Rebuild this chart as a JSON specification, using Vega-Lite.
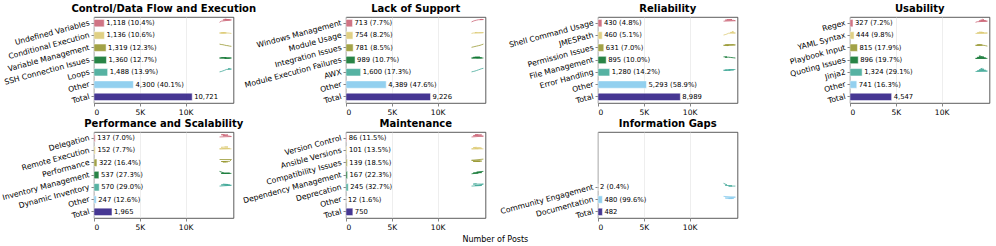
{
"$schema": "https://vega.github.io/schema/vega-lite/v6.json",
"padding": {"left": 0, "right": 5, "top": 3, "bottom": 5},
"title": {"text": "Number of Posts", "orient": "bottom", "anchor": "middle", "fontSize": 8, "fontWeight": "normal", "offset": 5, "frame": "bounds"},
"config": {
  "font": "DejaVu Sans",
  "view": {"stroke": "#333", "strokeWidth": 0.8},
  "title": {"font": "DejaVu Sans", "fontSize": 10, "fontWeight": "bold", "color": "#000", "offset": 3, "frame": "group"},
  "axis": {"labelFont": "DejaVu Sans", "labelFontSize": 7.5, "labelColor": "#000", "tickColor": "#333", "tickSize": 3, "tickWidth": 0.6, "domain": false, "labelPadding": 2},
  "axisX": {"grid": true, "gridColor": "#e6e6e6", "gridWidth": 0.7},
  "axisY": {"grid": false, "labelFontSize": 7.7},
  "text": {"font": "DejaVu Sans"}
},
"datasets": {
 "bars": [
  {"p":1,"s":1,"c":"Undefined Variables","n":1118,"txt":"1,118 (10.4%)"},
  {"p":1,"s":2,"c":"Conditional Execution","n":1136,"txt":"1,136 (10.6%)"},
  {"p":1,"s":3,"c":"Variable Management","n":1319,"txt":"1,319 (12.3%)"},
  {"p":1,"s":4,"c":"SSH Connection Issues","n":1360,"txt":"1,360 (12.7%)"},
  {"p":1,"s":5,"c":"Loops","n":1488,"txt":"1,488 (13.9%)"},
  {"p":1,"s":6,"c":"Other","n":4300,"txt":"4,300 (40.1%)"},
  {"p":1,"s":7,"c":"Total","n":10721,"txt":"10,721"},
  {"p":2,"s":1,"c":"Windows Management","n":713,"txt":"713 (7.7%)"},
  {"p":2,"s":2,"c":"Module Usage","n":754,"txt":"754 (8.2%)"},
  {"p":2,"s":3,"c":"Integration Issues","n":781,"txt":"781 (8.5%)"},
  {"p":2,"s":4,"c":"Module Execution Failures","n":989,"txt":"989 (10.7%)"},
  {"p":2,"s":5,"c":"AWX","n":1600,"txt":"1,600 (17.3%)"},
  {"p":2,"s":6,"c":"Other","n":4389,"txt":"4,389 (47.6%)"},
  {"p":2,"s":7,"c":"Total","n":9226,"txt":"9,226"},
  {"p":3,"s":1,"c":"Shell Command Usage","n":430,"txt":"430 (4.8%)"},
  {"p":3,"s":2,"c":"JMESPath","n":460,"txt":"460 (5.1%)"},
  {"p":3,"s":3,"c":"Permission Issues","n":631,"txt":"631 (7.0%)"},
  {"p":3,"s":4,"c":"File Management","n":895,"txt":"895 (10.0%)"},
  {"p":3,"s":5,"c":"Error Handling","n":1280,"txt":"1,280 (14.2%)"},
  {"p":3,"s":6,"c":"Other","n":5293,"txt":"5,293 (58.9%)"},
  {"p":3,"s":7,"c":"Total","n":8989,"txt":"8,989"},
  {"p":4,"s":1,"c":"Regex","n":327,"txt":"327 (7.2%)"},
  {"p":4,"s":2,"c":"YAML Syntax","n":444,"txt":"444 (9.8%)"},
  {"p":4,"s":3,"c":"Playbook Input","n":815,"txt":"815 (17.9%)"},
  {"p":4,"s":4,"c":"Quoting Issues","n":896,"txt":"896 (19.7%)"},
  {"p":4,"s":5,"c":"Jinja2","n":1324,"txt":"1,324 (29.1%)"},
  {"p":4,"s":6,"c":"Other","n":741,"txt":"741 (16.3%)"},
  {"p":4,"s":7,"c":"Total","n":4547,"txt":"4,547"},
  {"p":5,"s":1,"c":"Delegation","n":137,"txt":"137 (7.0%)"},
  {"p":5,"s":2,"c":"Remote Execution","n":152,"txt":"152 (7.7%)"},
  {"p":5,"s":3,"c":"Performance","n":322,"txt":"322 (16.4%)"},
  {"p":5,"s":4,"c":"Inventory Management","n":537,"txt":"537 (27.3%)"},
  {"p":5,"s":5,"c":"Dynamic Inventory","n":570,"txt":"570 (29.0%)"},
  {"p":5,"s":6,"c":"Other","n":247,"txt":"247 (12.6%)"},
  {"p":5,"s":7,"c":"Total","n":1965,"txt":"1,965"},
  {"p":6,"s":1,"c":"Version Control","n":86,"txt":"86 (11.5%)"},
  {"p":6,"s":2,"c":"Ansible Versions","n":101,"txt":"101 (13.5%)"},
  {"p":6,"s":3,"c":"Compatibility Issues","n":139,"txt":"139 (18.5%)"},
  {"p":6,"s":4,"c":"Dependency Management","n":167,"txt":"167 (22.3%)"},
  {"p":6,"s":5,"c":"Deprecation","n":245,"txt":"245 (32.7%)"},
  {"p":6,"s":6,"c":"Other","n":12,"txt":"12 (1.6%)"},
  {"p":6,"s":7,"c":"Total","n":750,"txt":"750"},
  {"p":7,"s":5,"c":"Community Engagement","n":2,"txt":"2 (0.4%)"},
  {"p":7,"s":6,"c":"Documentation","n":480,"txt":"480 (99.6%)"},
  {"p":7,"s":7,"c":"Total","n":482,"txt":"482"}
 ],
 "spark": [
  {"p":1,"s":1,"c":"Undefined Variables","t":0,"v":0.2},{"p":1,"s":1,"c":"Undefined Variables","t":1,"v":0.5},{"p":1,"s":1,"c":"Undefined Variables","t":2,"v":0.8},{"p":1,"s":1,"c":"Undefined Variables","t":3,"v":0.95},{"p":1,"s":1,"c":"Undefined Variables","t":4,"v":1},{"p":1,"s":1,"c":"Undefined Variables","t":5,"v":0.9},{"p":1,"s":1,"c":"Undefined Variables","t":6,"v":0.85},{"p":1,"s":1,"c":"Undefined Variables","t":7,"v":0.8},
  {"p":1,"s":2,"c":"Conditional Execution","t":0,"v":0.6},{"p":1,"s":2,"c":"Conditional Execution","t":1,"v":0.65},{"p":1,"s":2,"c":"Conditional Execution","t":2,"v":0.7},{"p":1,"s":2,"c":"Conditional Execution","t":3,"v":0.7},{"p":1,"s":2,"c":"Conditional Execution","t":4,"v":0.65},{"p":1,"s":2,"c":"Conditional Execution","t":5,"v":0.6},{"p":1,"s":2,"c":"Conditional Execution","t":6,"v":0.55},{"p":1,"s":2,"c":"Conditional Execution","t":7,"v":0.5},
  {"p":1,"s":3,"c":"Variable Management","t":0,"v":0.9},{"p":1,"s":3,"c":"Variable Management","t":1,"v":0.8},{"p":1,"s":3,"c":"Variable Management","t":2,"v":0.75},{"p":1,"s":3,"c":"Variable Management","t":3,"v":0.65},{"p":1,"s":3,"c":"Variable Management","t":4,"v":0.55},{"p":1,"s":3,"c":"Variable Management","t":5,"v":0.5},{"p":1,"s":3,"c":"Variable Management","t":6,"v":0.4},{"p":1,"s":3,"c":"Variable Management","t":7,"v":0.35},
  {"p":1,"s":4,"c":"SSH Connection Issues","t":0,"v":0.5},{"p":1,"s":4,"c":"SSH Connection Issues","t":1,"v":0.6},{"p":1,"s":4,"c":"SSH Connection Issues","t":2,"v":0.5},{"p":1,"s":4,"c":"SSH Connection Issues","t":3,"v":0.45},{"p":1,"s":4,"c":"SSH Connection Issues","t":4,"v":0.55},{"p":1,"s":4,"c":"SSH Connection Issues","t":5,"v":0.5},{"p":1,"s":4,"c":"SSH Connection Issues","t":6,"v":0.45},{"p":1,"s":4,"c":"SSH Connection Issues","t":7,"v":0.5},
  {"p":1,"s":5,"c":"Loops","t":0,"v":0.1},{"p":1,"s":5,"c":"Loops","t":1,"v":0.2},{"p":1,"s":5,"c":"Loops","t":2,"v":0.35},{"p":1,"s":5,"c":"Loops","t":3,"v":0.5},{"p":1,"s":5,"c":"Loops","t":4,"v":0.7},{"p":1,"s":5,"c":"Loops","t":5,"v":0.85},{"p":1,"s":5,"c":"Loops","t":6,"v":0.95},{"p":1,"s":5,"c":"Loops","t":7,"v":0.8},
  {"p":2,"s":1,"c":"Windows Management","t":0,"v":0.3},{"p":2,"s":1,"c":"Windows Management","t":1,"v":0.5},{"p":2,"s":1,"c":"Windows Management","t":2,"v":0.65},{"p":2,"s":1,"c":"Windows Management","t":3,"v":0.75},{"p":2,"s":1,"c":"Windows Management","t":4,"v":0.85},{"p":2,"s":1,"c":"Windows Management","t":5,"v":0.9},{"p":2,"s":1,"c":"Windows Management","t":6,"v":0.95},{"p":2,"s":1,"c":"Windows Management","t":7,"v":0.9},
  {"p":2,"s":2,"c":"Module Usage","t":0,"v":0.5},{"p":2,"s":2,"c":"Module Usage","t":1,"v":0.6},{"p":2,"s":2,"c":"Module Usage","t":2,"v":0.7},{"p":2,"s":2,"c":"Module Usage","t":3,"v":0.75},{"p":2,"s":2,"c":"Module Usage","t":4,"v":0.7},{"p":2,"s":2,"c":"Module Usage","t":5,"v":0.7},{"p":2,"s":2,"c":"Module Usage","t":6,"v":0.65},{"p":2,"s":2,"c":"Module Usage","t":7,"v":0.7},
  {"p":2,"s":3,"c":"Integration Issues","t":0,"v":0.1},{"p":2,"s":3,"c":"Integration Issues","t":1,"v":0.2},{"p":2,"s":3,"c":"Integration Issues","t":2,"v":0.3},{"p":2,"s":3,"c":"Integration Issues","t":3,"v":0.4},{"p":2,"s":3,"c":"Integration Issues","t":4,"v":0.5},{"p":2,"s":3,"c":"Integration Issues","t":5,"v":0.6},{"p":2,"s":3,"c":"Integration Issues","t":6,"v":0.75},{"p":2,"s":3,"c":"Integration Issues","t":7,"v":0.9},
  {"p":2,"s":4,"c":"Module Execution Failures","t":0,"v":0.5},{"p":2,"s":4,"c":"Module Execution Failures","t":1,"v":0.65},{"p":2,"s":4,"c":"Module Execution Failures","t":2,"v":0.7},{"p":2,"s":4,"c":"Module Execution Failures","t":3,"v":0.55},{"p":2,"s":4,"c":"Module Execution Failures","t":4,"v":0.65},{"p":2,"s":4,"c":"Module Execution Failures","t":5,"v":0.7},{"p":2,"s":4,"c":"Module Execution Failures","t":6,"v":0.55},{"p":2,"s":4,"c":"Module Execution Failures","t":7,"v":0.5},
  {"p":2,"s":5,"c":"AWX","t":0,"v":0.1},{"p":2,"s":5,"c":"AWX","t":1,"v":0.2},{"p":2,"s":5,"c":"AWX","t":2,"v":0.3},{"p":2,"s":5,"c":"AWX","t":3,"v":0.45},{"p":2,"s":5,"c":"AWX","t":4,"v":0.6},{"p":2,"s":5,"c":"AWX","t":5,"v":0.75},{"p":2,"s":5,"c":"AWX","t":6,"v":0.9},{"p":2,"s":5,"c":"AWX","t":7,"v":1},
  {"p":3,"s":1,"c":"Shell Command Usage","t":0,"v":0.5},{"p":3,"s":1,"c":"Shell Command Usage","t":1,"v":0.75},{"p":3,"s":1,"c":"Shell Command Usage","t":2,"v":0.9},{"p":3,"s":1,"c":"Shell Command Usage","t":3,"v":0.8},{"p":3,"s":1,"c":"Shell Command Usage","t":4,"v":0.85},{"p":3,"s":1,"c":"Shell Command Usage","t":5,"v":0.9},{"p":3,"s":1,"c":"Shell Command Usage","t":6,"v":0.7},{"p":3,"s":1,"c":"Shell Command Usage","t":7,"v":0.6},
  {"p":3,"s":2,"c":"JMESPath","t":0,"v":0.1},{"p":3,"s":2,"c":"JMESPath","t":1,"v":0.2},{"p":3,"s":2,"c":"JMESPath","t":2,"v":0.35},{"p":3,"s":2,"c":"JMESPath","t":3,"v":0.55},{"p":3,"s":2,"c":"JMESPath","t":4,"v":0.75},{"p":3,"s":2,"c":"JMESPath","t":5,"v":1},{"p":3,"s":2,"c":"JMESPath","t":6,"v":0.85},{"p":3,"s":2,"c":"JMESPath","t":7,"v":0.6},
  {"p":3,"s":3,"c":"Permission Issues","t":0,"v":0.6},{"p":3,"s":3,"c":"Permission Issues","t":1,"v":0.7},{"p":3,"s":3,"c":"Permission Issues","t":2,"v":0.5},{"p":3,"s":3,"c":"Permission Issues","t":3,"v":0.6},{"p":3,"s":3,"c":"Permission Issues","t":4,"v":0.7},{"p":3,"s":3,"c":"Permission Issues","t":5,"v":0.75},{"p":3,"s":3,"c":"Permission Issues","t":6,"v":0.8},{"p":3,"s":3,"c":"Permission Issues","t":7,"v":0.7},
  {"p":3,"s":4,"c":"File Management","t":0,"v":0.8},{"p":3,"s":4,"c":"File Management","t":1,"v":0.7},{"p":3,"s":4,"c":"File Management","t":2,"v":0.75},{"p":3,"s":4,"c":"File Management","t":3,"v":0.7},{"p":3,"s":4,"c":"File Management","t":4,"v":0.65},{"p":3,"s":4,"c":"File Management","t":5,"v":0.6},{"p":3,"s":4,"c":"File Management","t":6,"v":0.55},{"p":3,"s":4,"c":"File Management","t":7,"v":0.5},
  {"p":3,"s":5,"c":"Error Handling","t":0,"v":0.5},{"p":3,"s":5,"c":"Error Handling","t":1,"v":0.55},{"p":3,"s":5,"c":"Error Handling","t":2,"v":0.5},{"p":3,"s":5,"c":"Error Handling","t":3,"v":0.6},{"p":3,"s":5,"c":"Error Handling","t":4,"v":0.55},{"p":3,"s":5,"c":"Error Handling","t":5,"v":0.65},{"p":3,"s":5,"c":"Error Handling","t":6,"v":0.6},{"p":3,"s":5,"c":"Error Handling","t":7,"v":0.7},
  {"p":4,"s":1,"c":"Regex","t":0,"v":0.2},{"p":4,"s":1,"c":"Regex","t":1,"v":0.35},{"p":4,"s":1,"c":"Regex","t":2,"v":0.55},{"p":4,"s":1,"c":"Regex","t":3,"v":0.75},{"p":4,"s":1,"c":"Regex","t":4,"v":1},{"p":4,"s":1,"c":"Regex","t":5,"v":0.8},{"p":4,"s":1,"c":"Regex","t":6,"v":0.6},{"p":4,"s":1,"c":"Regex","t":7,"v":0.5},
  {"p":4,"s":2,"c":"YAML Syntax","t":0,"v":0.5},{"p":4,"s":2,"c":"YAML Syntax","t":1,"v":0.65},{"p":4,"s":2,"c":"YAML Syntax","t":2,"v":0.85},{"p":4,"s":2,"c":"YAML Syntax","t":3,"v":0.7},{"p":4,"s":2,"c":"YAML Syntax","t":4,"v":0.8},{"p":4,"s":2,"c":"YAML Syntax","t":5,"v":0.7},{"p":4,"s":2,"c":"YAML Syntax","t":6,"v":0.6},{"p":4,"s":2,"c":"YAML Syntax","t":7,"v":0.6},
  {"p":4,"s":3,"c":"Playbook Input","t":0,"v":0.6},{"p":4,"s":3,"c":"Playbook Input","t":1,"v":0.7},{"p":4,"s":3,"c":"Playbook Input","t":2,"v":0.7},{"p":4,"s":3,"c":"Playbook Input","t":3,"v":0.75},{"p":4,"s":3,"c":"Playbook Input","t":4,"v":0.7},{"p":4,"s":3,"c":"Playbook Input","t":5,"v":0.6},{"p":4,"s":3,"c":"Playbook Input","t":6,"v":0.5},{"p":4,"s":3,"c":"Playbook Input","t":7,"v":0.4},
  {"p":4,"s":4,"c":"Quoting Issues","t":0,"v":0.4},{"p":4,"s":4,"c":"Quoting Issues","t":1,"v":0.65},{"p":4,"s":4,"c":"Quoting Issues","t":2,"v":0.95},{"p":4,"s":4,"c":"Quoting Issues","t":3,"v":1},{"p":4,"s":4,"c":"Quoting Issues","t":4,"v":0.85},{"p":4,"s":4,"c":"Quoting Issues","t":5,"v":0.7},{"p":4,"s":4,"c":"Quoting Issues","t":6,"v":0.5},{"p":4,"s":4,"c":"Quoting Issues","t":7,"v":0.4},
  {"p":4,"s":5,"c":"Jinja2","t":0,"v":0.2},{"p":4,"s":5,"c":"Jinja2","t":1,"v":0.35},{"p":4,"s":5,"c":"Jinja2","t":2,"v":0.6},{"p":4,"s":5,"c":"Jinja2","t":3,"v":0.85},{"p":4,"s":5,"c":"Jinja2","t":4,"v":1},{"p":4,"s":5,"c":"Jinja2","t":5,"v":0.75},{"p":4,"s":5,"c":"Jinja2","t":6,"v":0.5},{"p":4,"s":5,"c":"Jinja2","t":7,"v":0.3},
  {"p":5,"s":1,"c":"Delegation","t":0,"v":0.3},{"p":5,"s":1,"c":"Delegation","t":1,"v":0.85},{"p":5,"s":1,"c":"Delegation","t":2,"v":0.6},{"p":5,"s":1,"c":"Delegation","t":3,"v":0.9},{"p":5,"s":1,"c":"Delegation","t":4,"v":0.6},{"p":5,"s":1,"c":"Delegation","t":5,"v":0.8},{"p":5,"s":1,"c":"Delegation","t":6,"v":0.5},{"p":5,"s":1,"c":"Delegation","t":7,"v":0.4},
  {"p":5,"s":2,"c":"Remote Execution","t":0,"v":0.4},{"p":5,"s":2,"c":"Remote Execution","t":1,"v":0.8},{"p":5,"s":2,"c":"Remote Execution","t":2,"v":0.5},{"p":5,"s":2,"c":"Remote Execution","t":3,"v":0.9},{"p":5,"s":2,"c":"Remote Execution","t":4,"v":0.45},{"p":5,"s":2,"c":"Remote Execution","t":5,"v":0.85},{"p":5,"s":2,"c":"Remote Execution","t":6,"v":0.5},{"p":5,"s":2,"c":"Remote Execution","t":7,"v":0.4},
  {"p":5,"s":3,"c":"Performance","t":0,"v":0.8},{"p":5,"s":3,"c":"Performance","t":1,"v":0.3},{"p":5,"s":3,"c":"Performance","t":2,"v":0.2},{"p":5,"s":3,"c":"Performance","t":3,"v":0.2},{"p":5,"s":3,"c":"Performance","t":4,"v":0.25},{"p":5,"s":3,"c":"Performance","t":5,"v":0.2},{"p":5,"s":3,"c":"Performance","t":6,"v":0.35},{"p":5,"s":3,"c":"Performance","t":7,"v":0.8},
  {"p":5,"s":4,"c":"Inventory Management","t":0,"v":0.9},{"p":5,"s":4,"c":"Inventory Management","t":1,"v":0.4},{"p":5,"s":4,"c":"Inventory Management","t":2,"v":0.4},{"p":5,"s":4,"c":"Inventory Management","t":3,"v":0.45},{"p":5,"s":4,"c":"Inventory Management","t":4,"v":0.4},{"p":5,"s":4,"c":"Inventory Management","t":5,"v":0.4},{"p":5,"s":4,"c":"Inventory Management","t":6,"v":0.45},{"p":5,"s":4,"c":"Inventory Management","t":7,"v":0.4},
  {"p":5,"s":5,"c":"Dynamic Inventory","t":0,"v":0.3},{"p":5,"s":5,"c":"Dynamic Inventory","t":1,"v":0.6},{"p":5,"s":5,"c":"Dynamic Inventory","t":2,"v":0.8},{"p":5,"s":5,"c":"Dynamic Inventory","t":3,"v":0.55},{"p":5,"s":5,"c":"Dynamic Inventory","t":4,"v":0.6},{"p":5,"s":5,"c":"Dynamic Inventory","t":5,"v":0.7},{"p":5,"s":5,"c":"Dynamic Inventory","t":6,"v":0.6},{"p":5,"s":5,"c":"Dynamic Inventory","t":7,"v":0.5},
  {"p":6,"s":1,"c":"Version Control","t":0,"v":0.3},{"p":6,"s":1,"c":"Version Control","t":1,"v":0.6},{"p":6,"s":1,"c":"Version Control","t":2,"v":0.85},{"p":6,"s":1,"c":"Version Control","t":3,"v":0.6},{"p":6,"s":1,"c":"Version Control","t":4,"v":0.9},{"p":6,"s":1,"c":"Version Control","t":5,"v":0.75},{"p":6,"s":1,"c":"Version Control","t":6,"v":0.8},{"p":6,"s":1,"c":"Version Control","t":7,"v":0.5},
  {"p":6,"s":2,"c":"Ansible Versions","t":0,"v":0.4},{"p":6,"s":2,"c":"Ansible Versions","t":1,"v":0.7},{"p":6,"s":2,"c":"Ansible Versions","t":2,"v":0.5},{"p":6,"s":2,"c":"Ansible Versions","t":3,"v":0.8},{"p":6,"s":2,"c":"Ansible Versions","t":4,"v":0.45},{"p":6,"s":2,"c":"Ansible Versions","t":5,"v":0.7},{"p":6,"s":2,"c":"Ansible Versions","t":6,"v":0.55},{"p":6,"s":2,"c":"Ansible Versions","t":7,"v":0.4},
  {"p":6,"s":3,"c":"Compatibility Issues","t":0,"v":0.6},{"p":6,"s":3,"c":"Compatibility Issues","t":1,"v":0.3},{"p":6,"s":3,"c":"Compatibility Issues","t":2,"v":0.3},{"p":6,"s":3,"c":"Compatibility Issues","t":3,"v":0.35},{"p":6,"s":3,"c":"Compatibility Issues","t":4,"v":0.3},{"p":6,"s":3,"c":"Compatibility Issues","t":5,"v":0.35},{"p":6,"s":3,"c":"Compatibility Issues","t":6,"v":0.4},{"p":6,"s":3,"c":"Compatibility Issues","t":7,"v":0.9},
  {"p":6,"s":4,"c":"Dependency Management","t":0,"v":0.3},{"p":6,"s":4,"c":"Dependency Management","t":1,"v":0.5},{"p":6,"s":4,"c":"Dependency Management","t":2,"v":0.4},{"p":6,"s":4,"c":"Dependency Management","t":3,"v":0.7},{"p":6,"s":4,"c":"Dependency Management","t":4,"v":0.5},{"p":6,"s":4,"c":"Dependency Management","t":5,"v":0.85},{"p":6,"s":4,"c":"Dependency Management","t":6,"v":0.6},{"p":6,"s":4,"c":"Dependency Management","t":7,"v":0.9},
  {"p":6,"s":5,"c":"Deprecation","t":0,"v":0.3},{"p":6,"s":5,"c":"Deprecation","t":1,"v":0.8},{"p":6,"s":5,"c":"Deprecation","t":2,"v":0.45},{"p":6,"s":5,"c":"Deprecation","t":3,"v":0.9},{"p":6,"s":5,"c":"Deprecation","t":4,"v":0.5},{"p":6,"s":5,"c":"Deprecation","t":5,"v":0.6},{"p":6,"s":5,"c":"Deprecation","t":6,"v":0.45},{"p":6,"s":5,"c":"Deprecation","t":7,"v":0.8},
  {"p":7,"s":5,"c":"Community Engagement","t":0,"v":1},{"p":7,"s":5,"c":"Community Engagement","t":1,"v":0.5},{"p":7,"s":5,"c":"Community Engagement","t":2,"v":0.6},{"p":7,"s":5,"c":"Community Engagement","t":3,"v":0.3},{"p":7,"s":5,"c":"Community Engagement","t":4,"v":0.3},{"p":7,"s":5,"c":"Community Engagement","t":5,"v":0.35},{"p":7,"s":5,"c":"Community Engagement","t":6,"v":0.3},{"p":7,"s":5,"c":"Community Engagement","t":7,"v":0.3},
  {"p":7,"s":6,"c":"Documentation","t":0,"v":0.8},{"p":7,"s":6,"c":"Documentation","t":1,"v":0.4},{"p":7,"s":6,"c":"Documentation","t":2,"v":0.3},{"p":7,"s":6,"c":"Documentation","t":3,"v":0.25},{"p":7,"s":6,"c":"Documentation","t":4,"v":0.25},{"p":7,"s":6,"c":"Documentation","t":5,"v":0.25},{"p":7,"s":6,"c":"Documentation","t":6,"v":0.3},{"p":7,"s":6,"c":"Documentation","t":7,"v":0.6}
 ]
},
"columns": 4,
"bounds": "flush",
"spacing": {"row": 29, "column": 112},
"concat": [
 {"title": "Control/Data Flow and Execution", "width": 139.5, "height": 86, "resolve": {"scale": {"x": "independent", "y": "independent", "yOffset": "independent"}, "axis": {"y": "independent"}},
  "layer": [
   {"data": {"name": "bars"}, "transform": [{"filter": "datum.p == 1"}],
    "encoding": {
     "y": {"field": "c", "type": "nominal", "title": null, "scale": {"domain": ["Undefined Variables","Conditional Execution","Variable Management","SSH Connection Issues","Loops","Other","Total"], "paddingInner": 0.4, "paddingOuter": 0.2}, "axis": {"labelAngle": -15}},
     "x": {"field": "n", "type": "quantitative", "title": null, "scale": {"domain": [0, 15230], "nice": false}, "axis": {"values": [0, 5000, 10000], "labelExpr": "datum.value == 0 ? '0' : format(datum.value/1000, 'd') + 'K'"}}
    },
    "layer": [
     {"mark": {"type": "bar", "stroke": "white", "strokeWidth": 0.5, "opacity": 0.9}, "encoding": {"color": {"field": "s", "type": "nominal", "legend": null, "scale": {"domain": [1,2,3,4,5,6,7], "range": ["#CC6677","#DDCC77","#999933","#117733","#44AA99","#88CCEE","#332288"]}}}},
     {"mark": {"type": "text", "align": "left", "baseline": "middle", "dx": 2, "fontSize": 6.8, "color": "#000"}, "encoding": {"text": {"field": "txt"}}}
    ]},
   {"data": {"name": "spark"}, "transform": [{"filter": "datum.p == 1"}],
    "mark": {"type": "line", "strokeWidth": 0.8},
    "encoding": {
     "x": {"field": "t", "type": "quantitative", "axis": null, "scale": {"domain": [-74.1, 8.24], "nice": false, "zero": false}},
     "y": {"field": "c", "type": "nominal", "axis": null, "scale": {"domain": ["Undefined Variables","Conditional Execution","Variable Management","SSH Connection Issues","Loops","Other","Total"], "type": "point", "padding": 0.5}},
     "yOffset": {"field": "v", "type": "quantitative", "scale": {"domain": [0, 1], "range": [0, -4]}},
     "color": {"field": "s", "type": "nominal", "legend": null}
    }}
  ]},
 {"title": "Lack of Support", "width": 139.5, "height": 86, "resolve": {"scale": {"x": "independent", "y": "independent", "yOffset": "independent"}, "axis": {"y": "independent"}},
  "layer": [
   {"data": {"name": "bars"}, "transform": [{"filter": "datum.p == 2"}],
    "encoding": {
     "y": {"field": "c", "type": "nominal", "title": null, "scale": {"domain": ["Windows Management","Module Usage","Integration Issues","Module Execution Failures","AWX","Other","Total"], "paddingInner": 0.4, "paddingOuter": 0.2}, "axis": {"labelAngle": -15}},
     "x": {"field": "n", "type": "quantitative", "title": null, "scale": {"domain": [0, 15230], "nice": false}, "axis": {"values": [0, 5000, 10000], "labelExpr": "datum.value == 0 ? '0' : format(datum.value/1000, 'd') + 'K'"}}
    },
    "layer": [
     {"mark": {"type": "bar", "stroke": "white", "strokeWidth": 0.5, "opacity": 0.9}, "encoding": {"color": {"field": "s", "type": "nominal", "legend": null}}},
     {"mark": {"type": "text", "align": "left", "baseline": "middle", "dx": 2, "fontSize": 6.8, "color": "#000"}, "encoding": {"text": {"field": "txt"}}}
    ]},
   {"data": {"name": "spark"}, "transform": [{"filter": "datum.p == 2"}],
    "mark": {"type": "line", "strokeWidth": 0.8},
    "encoding": {
     "x": {"field": "t", "type": "quantitative", "axis": null, "scale": {"domain": [-74.1, 8.24], "nice": false, "zero": false}},
     "y": {"field": "c", "type": "nominal", "axis": null, "scale": {"domain": ["Windows Management","Module Usage","Integration Issues","Module Execution Failures","AWX","Other","Total"], "type": "point", "padding": 0.5}},
     "yOffset": {"field": "v", "type": "quantitative", "scale": {"domain": [0, 1], "range": [0, -4]}},
     "color": {"field": "s", "type": "nominal", "legend": null}
    }}
  ]},
 {"title": "Reliability", "width": 139.5, "height": 86, "resolve": {"scale": {"x": "independent", "y": "independent", "yOffset": "independent"}, "axis": {"y": "independent"}},
  "layer": [
   {"data": {"name": "bars"}, "transform": [{"filter": "datum.p == 3"}],
    "encoding": {
     "y": {"field": "c", "type": "nominal", "title": null, "scale": {"domain": ["Shell Command Usage","JMESPath","Permission Issues","File Management","Error Handling","Other","Total"], "paddingInner": 0.4, "paddingOuter": 0.2}, "axis": {"labelAngle": -15}},
     "x": {"field": "n", "type": "quantitative", "title": null, "scale": {"domain": [0, 15230], "nice": false}, "axis": {"values": [0, 5000, 10000], "labelExpr": "datum.value == 0 ? '0' : format(datum.value/1000, 'd') + 'K'"}}
    },
    "layer": [
     {"mark": {"type": "bar", "stroke": "white", "strokeWidth": 0.5, "opacity": 0.9}, "encoding": {"color": {"field": "s", "type": "nominal", "legend": null}}},
     {"mark": {"type": "text", "align": "left", "baseline": "middle", "dx": 2, "fontSize": 6.8, "color": "#000"}, "encoding": {"text": {"field": "txt"}}}
    ]},
   {"data": {"name": "spark"}, "transform": [{"filter": "datum.p == 3"}],
    "mark": {"type": "line", "strokeWidth": 0.8},
    "encoding": {
     "x": {"field": "t", "type": "quantitative", "axis": null, "scale": {"domain": [-74.1, 8.24], "nice": false, "zero": false}},
     "y": {"field": "c", "type": "nominal", "axis": null, "scale": {"domain": ["Shell Command Usage","JMESPath","Permission Issues","File Management","Error Handling","Other","Total"], "type": "point", "padding": 0.5}},
     "yOffset": {"field": "v", "type": "quantitative", "scale": {"domain": [0, 1], "range": [0, -4]}},
     "color": {"field": "s", "type": "nominal", "legend": null}
    }}
  ]},
 {"title": "Usability", "width": 139.5, "height": 86, "resolve": {"scale": {"x": "independent", "y": "independent", "yOffset": "independent"}, "axis": {"y": "independent"}},
  "layer": [
   {"data": {"name": "bars"}, "transform": [{"filter": "datum.p == 4"}],
    "encoding": {
     "y": {"field": "c", "type": "nominal", "title": null, "scale": {"domain": ["Regex","YAML Syntax","Playbook Input","Quoting Issues","Jinja2","Other","Total"], "paddingInner": 0.4, "paddingOuter": 0.2}, "axis": {"labelAngle": -15}},
     "x": {"field": "n", "type": "quantitative", "title": null, "scale": {"domain": [0, 15230], "nice": false}, "axis": {"values": [0, 5000, 10000], "labelExpr": "datum.value == 0 ? '0' : format(datum.value/1000, 'd') + 'K'"}}
    },
    "layer": [
     {"mark": {"type": "bar", "stroke": "white", "strokeWidth": 0.5, "opacity": 0.9}, "encoding": {"color": {"field": "s", "type": "nominal", "legend": null}}},
     {"mark": {"type": "text", "align": "left", "baseline": "middle", "dx": 2, "fontSize": 6.8, "color": "#000"}, "encoding": {"text": {"field": "txt"}}}
    ]},
   {"data": {"name": "spark"}, "transform": [{"filter": "datum.p == 4"}],
    "mark": {"type": "line", "strokeWidth": 0.8},
    "encoding": {
     "x": {"field": "t", "type": "quantitative", "axis": null, "scale": {"domain": [-74.1, 8.24], "nice": false, "zero": false}},
     "y": {"field": "c", "type": "nominal", "axis": null, "scale": {"domain": ["Regex","YAML Syntax","Playbook Input","Quoting Issues","Jinja2","Other","Total"], "type": "point", "padding": 0.5}},
     "yOffset": {"field": "v", "type": "quantitative", "scale": {"domain": [0, 1], "range": [0, -4]}},
     "color": {"field": "s", "type": "nominal", "legend": null}
    }}
  ]},
 {"title": "Performance and Scalability", "width": 139.5, "height": 86, "resolve": {"scale": {"x": "independent", "y": "independent", "yOffset": "independent"}, "axis": {"y": "independent"}},
  "layer": [
   {"data": {"name": "bars"}, "transform": [{"filter": "datum.p == 5"}],
    "encoding": {
     "y": {"field": "c", "type": "nominal", "title": null, "scale": {"domain": ["Delegation","Remote Execution","Performance","Inventory Management","Dynamic Inventory","Other","Total"], "paddingInner": 0.4, "paddingOuter": 0.2}, "axis": {"labelAngle": -15}},
     "x": {"field": "n", "type": "quantitative", "title": null, "scale": {"domain": [0, 15230], "nice": false}, "axis": {"values": [0, 5000, 10000], "labelExpr": "datum.value == 0 ? '0' : format(datum.value/1000, 'd') + 'K'"}}
    },
    "layer": [
     {"mark": {"type": "bar", "stroke": "white", "strokeWidth": 0.5, "opacity": 0.9}, "encoding": {"color": {"field": "s", "type": "nominal", "legend": null}}},
     {"mark": {"type": "text", "align": "left", "baseline": "middle", "dx": 2, "fontSize": 6.8, "color": "#000"}, "encoding": {"text": {"field": "txt"}}}
    ]},
   {"data": {"name": "spark"}, "transform": [{"filter": "datum.p == 5"}],
    "mark": {"type": "line", "strokeWidth": 0.8},
    "encoding": {
     "x": {"field": "t", "type": "quantitative", "axis": null, "scale": {"domain": [-74.1, 8.24], "nice": false, "zero": false}},
     "y": {"field": "c", "type": "nominal", "axis": null, "scale": {"domain": ["Delegation","Remote Execution","Performance","Inventory Management","Dynamic Inventory","Other","Total"], "type": "point", "padding": 0.5}},
     "yOffset": {"field": "v", "type": "quantitative", "scale": {"domain": [0, 1], "range": [0, -4]}},
     "color": {"field": "s", "type": "nominal", "legend": null}
    }}
  ]},
 {"title": "Maintenance", "width": 139.5, "height": 86, "resolve": {"scale": {"x": "independent", "y": "independent", "yOffset": "independent"}, "axis": {"y": "independent"}},
  "layer": [
   {"data": {"name": "bars"}, "transform": [{"filter": "datum.p == 6"}],
    "encoding": {
     "y": {"field": "c", "type": "nominal", "title": null, "scale": {"domain": ["Version Control","Ansible Versions","Compatibility Issues","Dependency Management","Deprecation","Other","Total"], "paddingInner": 0.4, "paddingOuter": 0.2}, "axis": {"labelAngle": -15}},
     "x": {"field": "n", "type": "quantitative", "title": null, "scale": {"domain": [0, 15230], "nice": false}, "axis": {"values": [0, 5000, 10000], "labelExpr": "datum.value == 0 ? '0' : format(datum.value/1000, 'd') + 'K'"}}
    },
    "layer": [
     {"mark": {"type": "bar", "stroke": "white", "strokeWidth": 0.5, "opacity": 0.9}, "encoding": {"color": {"field": "s", "type": "nominal", "legend": null}}},
     {"mark": {"type": "text", "align": "left", "baseline": "middle", "dx": 2, "fontSize": 6.8, "color": "#000"}, "encoding": {"text": {"field": "txt"}}}
    ]},
   {"data": {"name": "spark"}, "transform": [{"filter": "datum.p == 6"}],
    "mark": {"type": "line", "strokeWidth": 0.8},
    "encoding": {
     "x": {"field": "t", "type": "quantitative", "axis": null, "scale": {"domain": [-74.1, 8.24], "nice": false, "zero": false}},
     "y": {"field": "c", "type": "nominal", "axis": null, "scale": {"domain": ["Version Control","Ansible Versions","Compatibility Issues","Dependency Management","Deprecation","Other","Total"], "type": "point", "padding": 0.5}},
     "yOffset": {"field": "v", "type": "quantitative", "scale": {"domain": [0, 1], "range": [0, -4]}},
     "color": {"field": "s", "type": "nominal", "legend": null}
    }}
  ]},
 {"title": "Information Gaps", "width": 139.5, "height": 86, "resolve": {"scale": {"x": "independent", "y": "independent", "yOffset": "independent"}, "axis": {"y": "independent"}},
  "layer": [
   {"data": {"name": "bars"}, "transform": [{"filter": "datum.p == 7"}],
    "encoding": {
     "y": {"field": "c", "type": "nominal", "title": null, "scale": {"domain": ["_a","_b","_c","_d","Community Engagement","Documentation","Total"], "paddingInner": 0.4, "paddingOuter": 0.2}, "axis": {"labelAngle": -15, "values": ["Community Engagement","Documentation","Total"]}},
     "x": {"field": "n", "type": "quantitative", "title": null, "scale": {"domain": [0, 15230], "nice": false}, "axis": {"values": [0, 5000, 10000], "labelExpr": "datum.value == 0 ? '0' : format(datum.value/1000, 'd') + 'K'"}}
    },
    "layer": [
     {"mark": {"type": "bar", "stroke": "white", "strokeWidth": 0.5, "opacity": 0.9}, "encoding": {"color": {"field": "s", "type": "nominal", "legend": null}}},
     {"mark": {"type": "text", "align": "left", "baseline": "middle", "dx": 2, "fontSize": 6.8, "color": "#000"}, "encoding": {"text": {"field": "txt"}}}
    ]},
   {"data": {"name": "spark"}, "transform": [{"filter": "datum.p == 7"}],
    "mark": {"type": "line", "strokeWidth": 0.8},
    "encoding": {
     "x": {"field": "t", "type": "quantitative", "axis": null, "scale": {"domain": [-74.1, 8.24], "nice": false, "zero": false}},
     "y": {"field": "c", "type": "nominal", "axis": null, "scale": {"domain": ["_a","_b","_c","_d","Community Engagement","Documentation","Total"], "type": "point", "padding": 0.5}},
     "yOffset": {"field": "v", "type": "quantitative", "scale": {"domain": [0, 1], "range": [0, -4]}},
     "color": {"field": "s", "type": "nominal", "legend": null}
    }}
  ]}
]
}
